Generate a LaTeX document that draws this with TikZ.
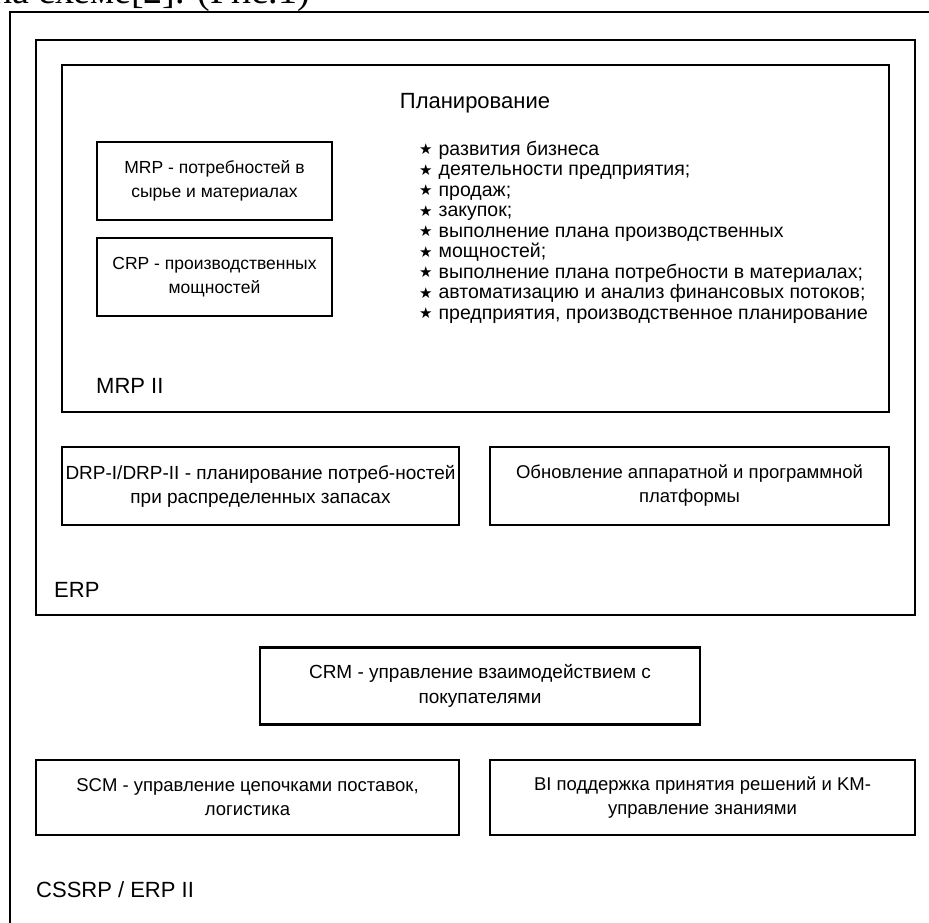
\documentclass[tikz,border=0pt]{standalone}
\usepackage{fontspec}
\setmainfont{Liberation Sans}
\newfontfamily\serifcap{Liberation Serif}
\newfontfamily\symfont{DejaVu Sans}
\begin{document}
\begin{tikzpicture}[x=1pt,y=-1pt,
  frame/.style={draw,line width=2.2pt},
  box/.style={draw,line width=2.6pt},
  boxtext/.style={align=center,font=\fontsize{17.5}{24}\selectfont,inner sep=0pt},
  widetext/.style={align=center,font=\fontsize{18.5}{24}\selectfont,inner sep=0pt},
  biglabel/.style={anchor=west,font=\fontsize{22}{26}\selectfont,inner sep=0pt},
  item/.style={anchor=base west,font=\fontsize{19.5}{20}\selectfont,inner sep=0pt}]
\useasboundingbox (0,0) rectangle (929,922);
\clip (0,0) rectangle (929,922);
\fill[white] (0,0) rectangle (929,922);
% cut caption at top
\node[anchor=base west,inner sep=0pt,font=\serifcap\fontsize{38}{42}\selectfont] (cap) at (-8,3) {на схеме[2]. (Рис.1)};
% outer CSSRP frame
\draw[frame] (10,12) rectangle (940,940);
% ERP
\draw[box] (36,40) rectangle (915,615);
% MRP II
\draw[box] (62,65) rectangle (889,412);
\node[anchor=center,inner sep=0pt,font=\fontsize{22}{26}\selectfont] (plan) at (475,103) {Планирование};
\node[box,minimum width=235pt,minimum height=78pt,inner sep=0pt] (mrp) at (214.5,181) {};
\node[boxtext] (mrpt) at (mrp.center) {MRP - потребностей в\\сырье и материалах};
\node[box,minimum width=235pt,minimum height=78pt,inner sep=0pt] (crp) at (214.5,277) {};
\node[boxtext] (crpt) at (crp.center) {CRP - производственных\\мощностей};
\foreach \t [count=\i] in {развития бизнеса,деятельности предприятия;,продаж;,закупок;,выполнение плана производственных,мощностей;,выполнение плана потребности в материалах;,автоматизацию и анализ финансовых потоков;,{предприятия, производственное планирование}}{
  \node[item] (it\i) at (419,{155+20.5*(\i-1)}) {{\symfont\fontsize{15}{16}\selectfont\raisebox{0.5pt}{★}}\hspace{6pt}\t};
}
\node[biglabel] (mrpii) at (96,386) {MRP II};
% DRP and platform
\node[box,minimum width=397pt,minimum height=78pt,inner sep=0pt] (drp) at (260.5,486) {};
\node[widetext,font=\fontsize{19}{24}\selectfont] (drpt) at (drp.center) {DRP-I/DRP-II - планирование потреб-ностей\\при распределенных запасах};
\node[box,minimum width=399pt,minimum height=78pt,inner sep=0pt] (upd) at (689.5,486) {};
\node[widetext] (updt) at (upd.center) {Обновление аппаратной и программной\\платформы};
\node[biglabel] (erp) at (54,590) {ERP};
% CRM
\node[box,minimum width=440pt,minimum height=77pt,inner sep=0pt] (crm) at (480,686) {};
\node[widetext,font=\fontsize{19}{25}\selectfont] (crmt) at (crm.center) {CRM - управление взаимодействием с\\покупателями};
% SCM, BI
\node[box,minimum width=423pt,minimum height=75pt,inner sep=0pt] (scm) at (247.5,797.5) {};
\node[widetext] (scmt) at (scm.center) {SCM - управление цепочками поставок,\\логистика};
\node[box,minimum width=425pt,minimum height=75pt,inner sep=0pt] (bi) at (702.5,797.5) {};
\node[widetext] (bit) at (bi.center) {BI поддержка принятия решений и KM-\\управление знаниями};
\node[biglabel] (cssrp) at (36,890) {CSSRP / ERP II};
\end{tikzpicture}
\end{document}
